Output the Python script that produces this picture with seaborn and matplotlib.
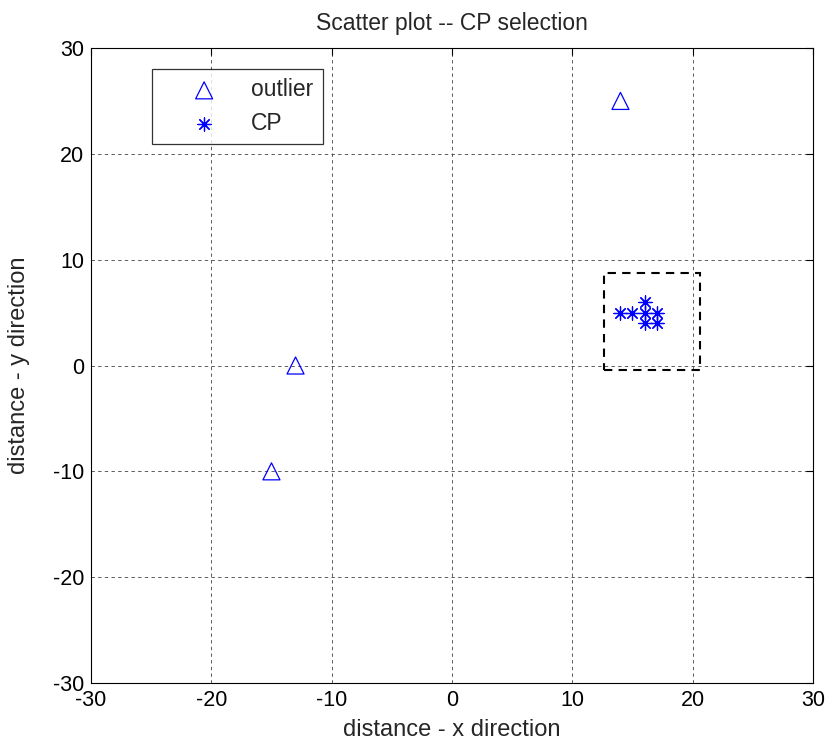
import matplotlib
matplotlib.use("Agg")
import matplotlib.pyplot as plt
import seaborn as sns
import pandas as pd
from matplotlib.patches import Rectangle

# ── Data ──────────────────────────────────────────────────────────────────────
outlier_x = [14, -13, -15]
outlier_y = [25, 0, -10]

cp_x = [14, 15, 16, 17, 16, 16, 17]
cp_y = [5, 5, 5, 5, 6, 4, 4]

# selection box (lower-left corner, width, height)
box_x0, box_y0 = 12.6, -0.4
box_w, box_h = 8.0, 9.1

ticks = [-30, -20, -10, 0, 10, 20, 30]

# ── Plot ──────────────────────────────────────────────────────────────────────
sns.set_style("white")
plt.rcParams["font.family"] = ["Liberation Sans", "DejaVu Sans"]
plt.rcParams["axes.unicode_minus"] = False

fig = plt.figure(figsize=(8.3, 7.42), dpi=100)
ax = fig.add_axes([0.1096, 0.0795, 0.8699, 0.8558])

outliers = pd.DataFrame({"x": outlier_x, "y": outlier_y})
cps = pd.DataFrame({"x": cp_x, "y": cp_y})

sns.scatterplot(data=outliers, x="x", y="y", marker="^", s=150,
                facecolor="none", edgecolor="blue", linewidth=0.9,
                label="outlier", ax=ax, zorder=3)
sns.scatterplot(data=cps, x="x", y="y", marker=(8, 2, 0), s=90,
                color="blue", edgecolor="blue", linewidth=0.9,
                label="CP", ax=ax, zorder=3)

ax.add_patch(Rectangle((box_x0, box_y0), box_w, box_h, fill=False,
                       edgecolor="black", linestyle=(0, (4, 3)), linewidth=1.5,
                       zorder=4))

ax.set_xlim(-30, 30)
ax.set_ylim(-30, 30)
ax.set_xticks(ticks)
ax.set_yticks(ticks)
ax.grid(True, color="#404040", linestyle=(0, (4, 4)), linewidth=0.6)
ax.tick_params(direction="in", length=5, labelsize=15.5, top=True, right=True,
               colors="black", pad=5)
for sp in ax.spines.values():
    sp.set_color("black")
    sp.set_linewidth(0.8)

ax.set_xlabel("distance - x direction", fontsize=17, labelpad=6)
ax.set_ylabel("distance - y direction", fontsize=17, labelpad=16)
ax.set_title("Scatter plot -- CP selection", fontsize=16.5, pad=13)

leg = ax.legend(loc="upper left", bbox_to_anchor=(0.085, 0.967), fontsize=16.5,
                frameon=True, fancybox=False, edgecolor="black",
                borderpad=0.41, handletextpad=0.2, labelspacing=0.45,
                borderaxespad=0.0, handlelength=3.7, markerscale=1.0)
leg.get_frame().set_linewidth(0.9)

fig.savefig("out.png", dpi=100)
